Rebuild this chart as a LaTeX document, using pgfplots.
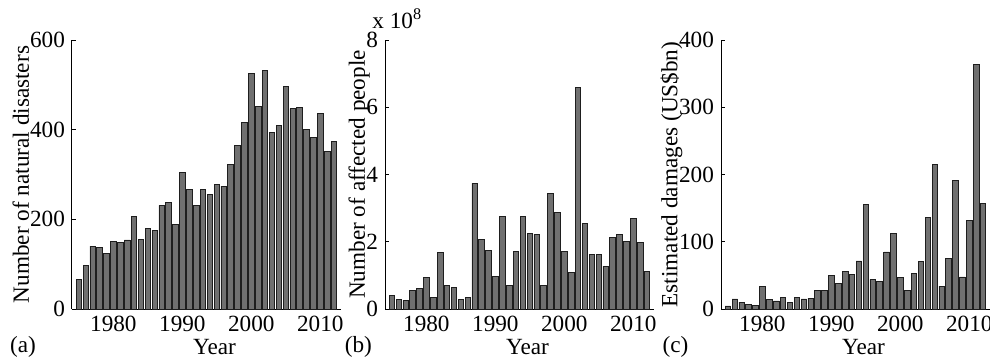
\documentclass[border=0pt]{standalone}
\usepackage{fontspec}
\setmainfont{Liberation Serif}
\usepackage{pgfplots}
\pgfplotsset{compat=1.18}
\definecolor{barfill}{RGB}{112,112,112}
\definecolor{baredge}{RGB}{30,30,30}
\newcommand{\pfont}{\fontsize{11.6}{13.9}\selectfont}
\pgfplotsset{
  panel/.style={
    width=134.5pt, height=134.5pt, scale only axis,
    anchor=south west,
    xmin=1974, xmax=2013, ymin=0,
    axis x line*=bottom, axis y line*=left,
    axis line style={-, black, line width=0.5pt},
    tick align=inside, major tick length=2pt,
    tick style={black, line width=0.4pt},
    xtick={1980,1990,2000,2010},
    /pgf/number format/assume math mode=true,
    xticklabel style={/pgf/number format/1000 sep={}},
    scaled y ticks=false,
    clip=false,
    every tick label/.append style={font=\pfont},
    label style={font=\pfont},
    xlabel={Year},
    xlabel style={at={(axis description cs:0.53,-0.141)}, anchor=center},
  },
  bars/.style={ybar, bar width=0.8, bar shift=0pt, fill=barfill, draw=baredge, line width=0.4pt},
}
\begin{document}
\begin{tikzpicture}[font=\pfont]
\useasboundingbox (0,0) rectangle (495pt,180.5pt);
% (a)
\begin{axis}[panel, at={(36pt,26pt)}, ymax=600, ytick={0,200,400,600},
  ylabel={Number of natural disasters},
  ylabel style={at={(axis description cs:-0.19,0.5)}, anchor=center}]
\addplot[bars] coordinates {
(1975,66) (1976,98) (1977,140) (1978,137) (1979,124) (1980,151) (1981,149) (1982,154)
(1983,206) (1984,156) (1985,180) (1986,175) (1987,231) (1988,238) (1989,189) (1990,304)
(1991,266) (1992,231) (1993,266) (1994,256) (1995,278) (1996,274) (1997,323) (1998,364)
(1999,416) (2000,526) (2001,451) (2002,532) (2003,393) (2004,410) (2005,497) (2006,447)
(2007,449) (2008,401) (2009,383) (2010,436) (2011,352) (2012,374)};
\node at (axis description cs:-0.182,-0.141) {(a)};
\end{axis}
% (b)
\begin{axis}[panel, at={(192.5pt,26pt)}, ymax=8, ytick={0,2,4,6,8},
  ylabel={Number of affected people},
  ylabel style={at={(axis description cs:-0.096,0.5)}, anchor=center}]
\addplot[bars] coordinates {
(1975,0.41) (1976,0.29) (1977,0.25) (1978,0.55) (1979,0.61) (1980,0.94) (1981,0.35) (1982,1.69)
(1983,0.70) (1984,0.64) (1985,0.29) (1986,0.34) (1987,3.74) (1988,2.07) (1989,1.73) (1990,0.97)
(1991,2.76) (1992,0.69) (1993,1.72) (1994,2.75) (1995,2.24) (1996,2.22) (1997,0.69) (1998,3.44)
(1999,2.86) (2000,1.72) (2001,1.10) (2002,6.59) (2003,2.55) (2004,1.63) (2005,1.62) (2006,1.27)
(2007,2.13) (2008,2.22) (2009,2.01) (2010,2.69) (2011,1.98) (2012,1.12)};
\node at (axis description cs:-0.099,-0.141) {(b)};
\node[anchor=west, inner sep=0pt] at (axis description cs:-0.048,1.078) {x 10\textsuperscript{8}};
\end{axis}
% (c)
\begin{axis}[panel, at={(360.5pt,26pt)}, ymax=400, ytick={0,100,200,300,400},
  ylabel={Estimated damages (US\$bn)},
  ylabel style={at={(axis description cs:-0.184,0.5)}, anchor=center}]
\addplot[bars] coordinates {
(1975,4.5) (1976,15) (1977,10.4) (1978,7) (1979,5.5) (1980,33.7) (1981,14.4) (1982,12)
(1983,17.3) (1984,10) (1985,17.3) (1986,15) (1987,16) (1988,27.8) (1989,27.8) (1990,50)
(1991,38) (1992,55.5) (1993,51.5) (1994,71.4) (1995,155.6) (1996,44) (1997,40.6) (1998,84.8)
(1999,112.5) (2000,46.6) (2001,27.8) (2002,52.5) (2003,70.4) (2004,136.3) (2005,215) (2006,34.2)
(2007,75.3) (2008,190.8) (2009,47.6) (2010,131.8) (2011,363.8) (2012,157.6)};
\node at (axis description cs:-0.169,-0.141) {(c)};
\end{axis}
\end{tikzpicture}
\end{document}
